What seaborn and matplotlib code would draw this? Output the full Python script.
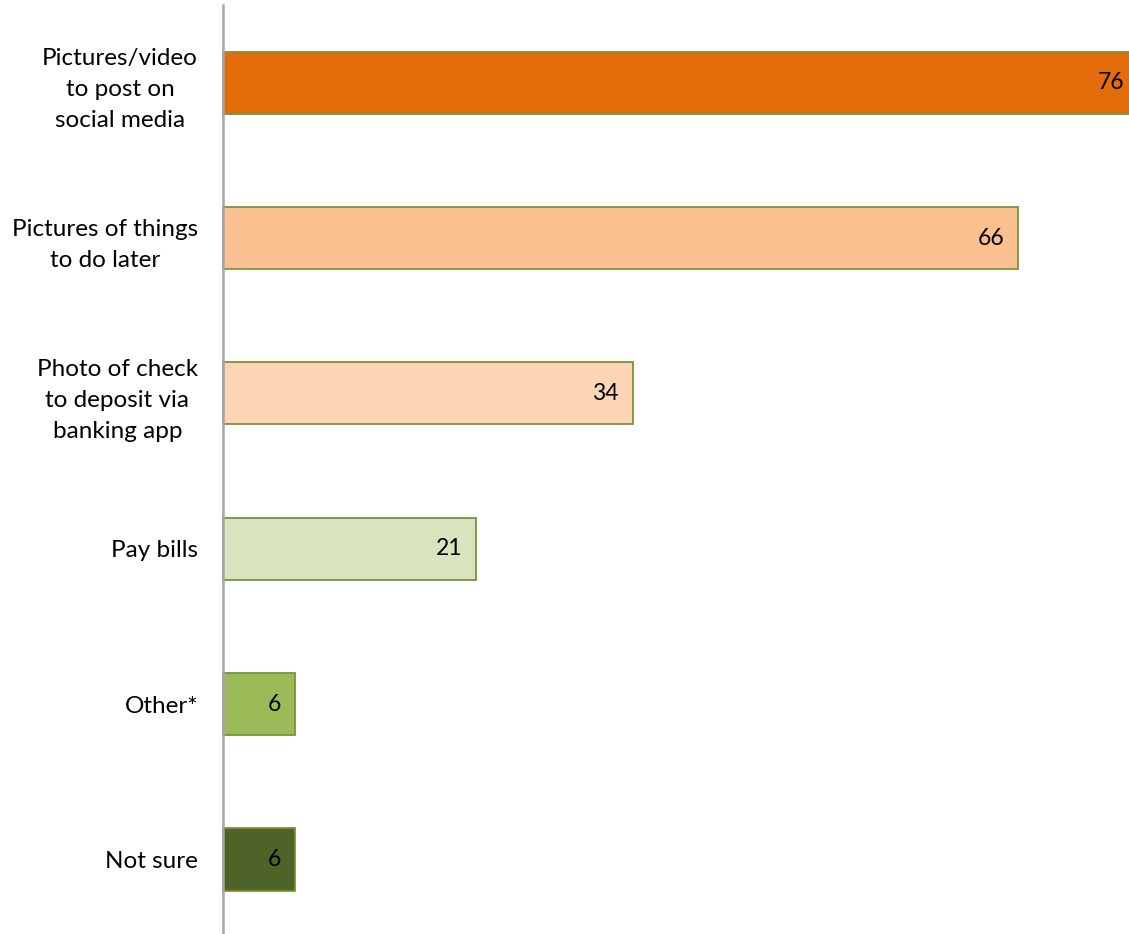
import matplotlib
matplotlib.use("Agg")
import matplotlib.pyplot as plt
import seaborn as sns
import pandas as pd

categories = [
    "Pictures/video\nto post on\nsocial media",
    "Pictures of things\nto do later",
    "Photo of check\nto deposit via\nbanking app",
    "Pay bills",
    "Other*",
    "Not sure",
]
values = [76, 66, 34, 21, 6, 6]
colors = ["#E46C0A", "#FAC090", "#FCD5B5", "#D7E4BD", "#9BBB59", "#4F6228"]

df = pd.DataFrame({"category": categories, "value": values})

sns.set_theme(style="white")
plt.rcParams["font.family"] = ["Lato", "DejaVu Sans"]

fig = plt.figure(figsize=(11.29, 9.34), dpi=100)
ax = fig.add_axes([223 / 1129, 0.0, 1 - 223 / 1129, 1 - 5 / 934])

sns.barplot(
    data=df, y="category", x="value", hue="category",
    palette=colors, saturation=1, orient="h", width=0.4, legend=False,
    edgecolor="#77933C", linewidth=1.3, ax=ax,
)
for p in ax.patches:
    p.set_clip_on(False)

ax.set_xlim(0, 75.2)
ax.set_ylim(5.48, -0.5)

for i, v in enumerate(values):
    ax.annotate(str(v), xy=(v, i), xytext=(-14, 0), textcoords="offset pixels",
                ha="right", va="center", fontsize=16.5, color="#000000",
                annotation_clip=False)

for s in ["top", "right", "bottom"]:
    ax.spines[s].set_visible(False)
ax.spines["left"].set_color("#A6A6A6")
ax.spines["left"].set_linewidth(1.8)

ax.set_xticks([])
ax.set_xlabel("")
ax.set_ylabel("")
ax.tick_params(axis="y", length=0, pad=18, labelsize=17.5, labelcolor="#000000")
for t in ax.get_yticklabels():
    t.set_multialignment("center")
    t.set_linespacing(1.6)

fig.savefig("out.png", dpi=100)
